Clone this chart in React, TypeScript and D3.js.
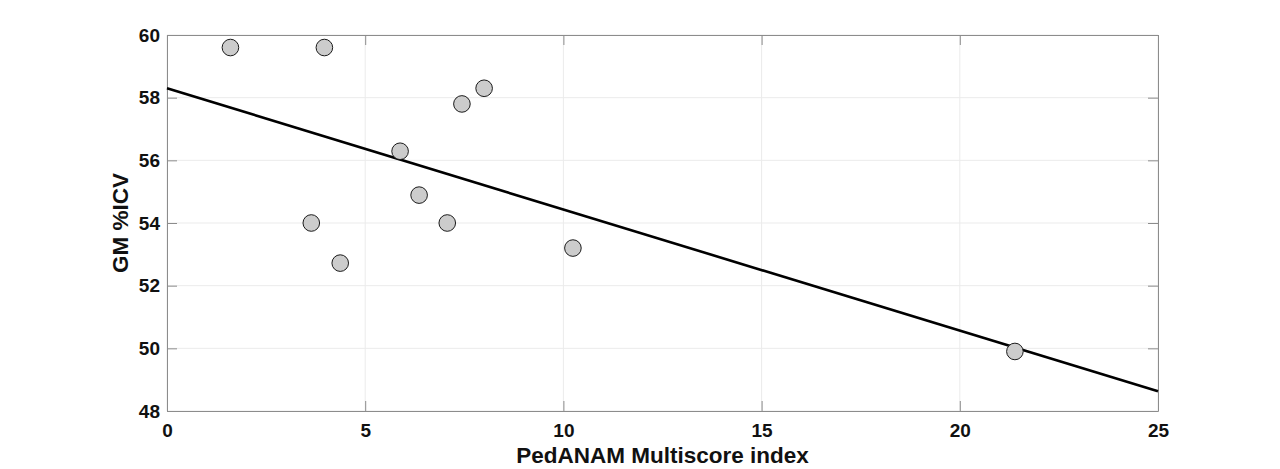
import * as d3 from "d3";
import { useEffect, useRef } from "react";

// data
const multiscore = [1.6, 3.97, 3.64, 4.37, 5.88, 6.36, 7.07, 7.44, 8.0, 10.24, 21.39];
const gmIcv = [59.6, 59.6, 54.0, 52.72, 56.29, 54.89, 54.0, 57.8, 58.3, 53.2, 49.9];
// fitted line end points (x, y)
const fitX = [0, 25];
const fitY = [58.3, 48.63];
const xTicks = [0, 5, 10, 15, 20, 25];
const yTicks = [48, 50, 52, 54, 56, 58, 60];

export default function App() {
  const svgRef = useRef<SVGSVGElement>(null);
  const width = 1280;
  const height = 469;
  const margin = { top: 35, right: 122, bottom: 58, left: 167 };

  useEffect(() => {
    const svg = d3.select(svgRef.current);
    svg.selectAll("*").remove();
    const innerW = width - margin.left - margin.right;
    const innerH = height - margin.top - margin.bottom;
    const font = "'Liberation Sans', Arial, Helvetica, sans-serif";

    const x = d3.scaleLinear().domain([0, 25]).range([0, innerW]);
    const y = d3.scaleLinear().domain([48, 60]).range([innerH, 0]);

    const g = svg.append("g").attr("transform", `translate(${margin.left},${margin.top})`);

    // grid
    g.append("g")
      .selectAll("line")
      .data(xTicks)
      .join("line")
      .attr("x1", (d) => x(d))
      .attr("x2", (d) => x(d))
      .attr("y1", 0)
      .attr("y2", innerH)
      .attr("stroke", "#ebebeb");
    g.append("g")
      .selectAll("line")
      .data(yTicks)
      .join("line")
      .attr("x1", 0)
      .attr("x2", innerW)
      .attr("y1", (d) => y(d))
      .attr("y2", (d) => y(d))
      .attr("stroke", "#ebebeb");

    // axes (MATLAB style inward ticks, box)
    const tk = 10;
    const axStyle = (sel: any) => {
      sel.select(".domain").attr("stroke", "#8c8c8c");
      sel.selectAll(".tick line").attr("stroke", "#8c8c8c");
      sel.selectAll(".tick text")
        .attr("font-family", font)
        .attr("font-weight", "bold")
        .attr("font-size", 19)
        .attr("fill", "#111");
    };
    g.append("g")
      .attr("transform", `translate(0,${innerH})`)
      .call(d3.axisBottom(x).tickValues(xTicks).tickSizeInner(-tk).tickSizeOuter(0).tickPadding(13))
      .call(axStyle);
    g.append("g")
      .call(d3.axisTop(x).tickValues(xTicks).tickSizeInner(-tk).tickSizeOuter(0).tickFormat(() => ""))
      .call(axStyle);
    g.append("g")
      .call(d3.axisLeft(y).tickValues(yTicks).tickSizeInner(-tk).tickSizeOuter(0).tickPadding(7))
      .call(axStyle);
    g.append("g")
      .attr("transform", `translate(${innerW},0)`)
      .call(d3.axisRight(y).tickValues(yTicks).tickSizeInner(-tk).tickSizeOuter(0).tickFormat(() => ""))
      .call(axStyle);

    // fit line
    const line = d3.line<number>()
      .x((_, i) => x(fitX[i]))
      .y((d) => y(d));
    g.append("path")
      .datum(fitY)
      .attr("fill", "none")
      .attr("stroke", "#000")
      .attr("stroke-width", 2.6)
      .attr("d", line);

    // points
    g.append("g")
      .selectAll("circle")
      .data(multiscore)
      .join("circle")
      .attr("cx", (d) => x(d))
      .attr("cy", (_, i) => y(gmIcv[i]))
      .attr("r", 8.3)
      .attr("fill", "#cccccc")
      .attr("stroke", "#1a1a1a")
      .attr("stroke-width", 1);

    // labels
    svg.append("text")
      .attr("x", margin.left + innerW / 2)
      .attr("y", 463)
      .attr("text-anchor", "middle")
      .attr("font-family", font)
      .attr("font-weight", "bold")
      .attr("font-size", 22.5)
      .attr("fill", "#111")
      .text("PedANAM Multiscore index");
    svg.append("text")
      .attr("transform", `translate(128,${margin.top + innerH / 2}) rotate(-90)`)
      .attr("text-anchor", "middle")
      .attr("font-family", font)
      .attr("font-weight", "bold")
      .attr("font-size", 22.5)
      .attr("fill", "#111")
      .text("GM %ICV");
  }, []);

  return (
    <svg
      ref={svgRef}
      width={width}
      height={height}
      style={{ position: "absolute", left: 0, top: 0, background: "#fff" }}
    />
  );
}
